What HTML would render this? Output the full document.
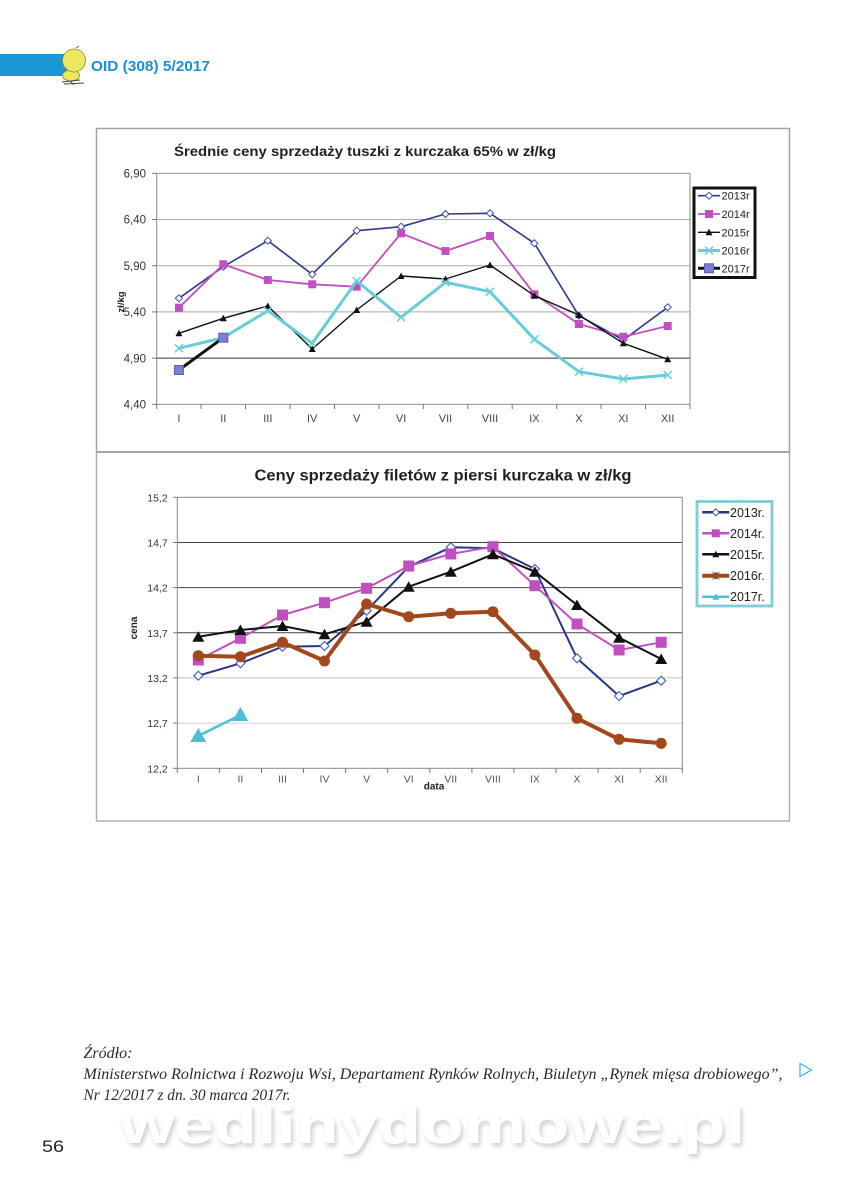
<!DOCTYPE html>
<html><head><meta charset="utf-8">
<style>html,body{margin:0;padding:0;background:#fff;}svg{display:block}</style>
</head><body>
<svg width="853" height="1200" viewBox="0 0 853 1200" xmlns="http://www.w3.org/2000/svg" font-family="'Liberation Sans', sans-serif">
<defs>
  <marker id="m13a" viewBox="-10 -10 20 20" markerWidth="20" markerHeight="20" refX="0" refY="0" markerUnits="userSpaceOnUse" overflow="visible"><path d="M0,-3.5 L3.5,0 L0,3.5 L-3.5,0 Z" fill="#fff" stroke="#3a4a9c" stroke-width="1"/></marker>
  <marker id="m14a" viewBox="-10 -10 20 20" markerWidth="20" markerHeight="20" refX="0" refY="0" markerUnits="userSpaceOnUse" overflow="visible"><rect x="-4" y="-4" width="8" height="8" fill="#c04fc0"/></marker>
  <marker id="m15a" viewBox="-10 -10 20 20" markerWidth="20" markerHeight="20" refX="0" refY="0" markerUnits="userSpaceOnUse" overflow="visible"><path d="M0,-3.5 L3.5,3 L-3.5,3 Z" fill="#111"/></marker>
  <marker id="m16a" viewBox="-10 -10 20 20" markerWidth="20" markerHeight="20" refX="0" refY="0" markerUnits="userSpaceOnUse" overflow="visible"><path d="M-4,-4 L4,4 M4,-4 L-4,4" stroke="#6ccfd8" stroke-width="1.5"/></marker>
  <marker id="m17a" viewBox="-10 -10 20 20" markerWidth="20" markerHeight="20" refX="0" refY="0" markerUnits="userSpaceOnUse" overflow="visible"><rect x="-4.5" y="-4.5" width="9" height="9" fill="#7c80d2" stroke="#5a5eb4" stroke-width="1"/></marker>

  <marker id="m13b" viewBox="-10 -10 20 20" markerWidth="20" markerHeight="20" refX="0" refY="0" markerUnits="userSpaceOnUse" overflow="visible"><path d="M0,-4.5 L4.5,0 L0,4.5 L-4.5,0 Z" fill="#fff" stroke="#4a64c0" stroke-width="1.2"/></marker>
  <marker id="m14b" viewBox="-10 -10 20 20" markerWidth="20" markerHeight="20" refX="0" refY="0" markerUnits="userSpaceOnUse" overflow="visible"><rect x="-5.5" y="-5.5" width="11" height="11" fill="#c050c0"/></marker>
  <marker id="m15b" viewBox="-10 -10 20 20" markerWidth="20" markerHeight="20" refX="0" refY="0" markerUnits="userSpaceOnUse" overflow="visible"><path d="M0,-5.5 L6,5 L-6,5 Z" fill="#111"/></marker>
  <marker id="m16b" viewBox="-10 -10 20 20" markerWidth="20" markerHeight="20" refX="0" refY="0" markerUnits="userSpaceOnUse" overflow="visible"><circle r="5.5" fill="#a3471c"/></marker>
  <marker id="m17b" viewBox="-10 -10 20 20" markerWidth="20" markerHeight="20" refX="0" refY="0" markerUnits="userSpaceOnUse" overflow="visible"><path d="M0,-8 L8,6 L-8,6 Z" fill="#4cbfd6"/></marker>
  <marker id="m17bs" viewBox="-10 -10 20 20" markerWidth="20" markerHeight="20" refX="0" refY="0" markerUnits="userSpaceOnUse" overflow="visible"><path d="M0,-3.5 L3.5,3 L-3.5,3 Z" fill="#4cbfd6"/></marker>

  <filter id="wm" x="-5%" y="-30%" width="110%" height="160%">
    <feGaussianBlur in="SourceAlpha" stdDeviation="2.5"/>
    <feOffset dx="2" dy="3" result="b"/>
    <feFlood flood-color="#9a9a9a" flood-opacity="0.5"/>
    <feComposite in2="b" operator="in" result="s"/>
    <feMerge><feMergeNode in="s"/><feMergeNode in="SourceGraphic"/></feMerge>
  </filter>
</defs>

<!-- Header -->
<rect x="0" y="54" width="68" height="22" fill="#1a98d5"/>
<ellipse cx="71" cy="75.5" rx="8.5" ry="5.5" fill="#efe760" stroke="#8b8a3a" stroke-width="0.8"/>
<circle cx="74" cy="60.5" r="11.5" fill="#efe760" stroke="#8b8a3a" stroke-width="0.8"/>
<path d="M62,82 L80,80 M64,84 L84,83 M70,81 L74,85" stroke="#444" stroke-width="0.9" fill="none"/>
<path d="M76,48 L79,46" stroke="#666" stroke-width="1"/>
<text x="91" y="71" font-size="15" font-weight="bold" fill="#1b8fd0" textLength="119" lengthAdjust="spacingAndGlyphs">OID (308) 5/2017</text>

<!-- Chart 1 frame -->
<rect x="96.5" y="128.5" width="693" height="323.5" fill="#fff" stroke="#a3a3a3" stroke-width="1.5"/>
<text x="365" y="156" text-anchor="middle" font-size="14" font-weight="bold" fill="#222" textLength="382" lengthAdjust="spacingAndGlyphs">Średnie ceny sprzedaży tuszki z kurczaka 65% w zł/kg</text>

<g stroke-width="1">
  <line x1="156.7" x2="690" y1="219.5" y2="219.5" stroke="#ababab"/>
  <line x1="156.7" x2="690" y1="265.7" y2="265.7" stroke="#ababab"/>
  <line x1="156.7" x2="690" y1="311.9" y2="311.9" stroke="#ababab"/>
  <line x1="156.7" x2="690" y1="358.1" y2="358.1" stroke="#333"/>
</g>
<rect x="156.7" y="173.3" width="533.3" height="231" fill="none" stroke="#8a8a8a" stroke-width="1"/>
<g stroke="#777" stroke-width="1">
  <line x1="152" x2="156.7" y1="173.3" y2="173.3"/>
  <line x1="152" x2="156.7" y1="219.5" y2="219.5"/>
  <line x1="152" x2="156.7" y1="265.7" y2="265.7"/>
  <line x1="152" x2="156.7" y1="311.9" y2="311.9"/>
  <line x1="152" x2="156.7" y1="358.1" y2="358.1"/>
  <line x1="152" x2="156.7" y1="404.3" y2="404.3"/>
  <line x1="156.7" x2="156.7" y1="404.3" y2="409"/>
  <line x1="201.1" x2="201.1" y1="404.3" y2="409"/>
  <line x1="245.6" x2="245.6" y1="404.3" y2="409"/>
  <line x1="290" x2="290" y1="404.3" y2="409"/>
  <line x1="334.5" x2="334.5" y1="404.3" y2="409"/>
  <line x1="378.9" x2="378.9" y1="404.3" y2="409"/>
  <line x1="423.3" x2="423.3" y1="404.3" y2="409"/>
  <line x1="467.8" x2="467.8" y1="404.3" y2="409"/>
  <line x1="512.2" x2="512.2" y1="404.3" y2="409"/>
  <line x1="556.7" x2="556.7" y1="404.3" y2="409"/>
  <line x1="601.1" x2="601.1" y1="404.3" y2="409"/>
  <line x1="645.6" x2="645.6" y1="404.3" y2="409"/>
  <line x1="690" x2="690" y1="404.3" y2="409"/>
</g>
<g font-size="11.5" fill="#333" text-anchor="end">
  <text x="146" y="177.5">6,90</text>
  <text x="146" y="223.7">6,40</text>
  <text x="146" y="269.9">5,90</text>
  <text x="146" y="316.1">5,40</text>
  <text x="146" y="362.3">4,90</text>
  <text x="146" y="408.5">4,40</text>
</g>
<g font-size="11" fill="#444" text-anchor="middle">
  <text x="178.9" y="422">I</text>
  <text x="223.3" y="422">II</text>
  <text x="267.8" y="422">III</text>
  <text x="312.2" y="422">IV</text>
  <text x="356.7" y="422">V</text>
  <text x="401.1" y="422">VI</text>
  <text x="445.5" y="422">VII</text>
  <text x="490" y="422">VIII</text>
  <text x="534.4" y="422">IX</text>
  <text x="578.9" y="422">X</text>
  <text x="623.3" y="422">XI</text>
  <text x="667.7" y="422">XII</text>
</g>
<text transform="translate(124,302) rotate(-90)" text-anchor="middle" font-size="9.5" font-weight="bold" fill="#222">zł/kg</text>

<g fill="none" stroke-linejoin="round">
  <polyline points="178.9,298.3 223.3,266.7 267.8,240.7 312.2,274.3 356.7,230.7 401.1,226.7 445.5,214 490,213.3 534.4,243.3 578.9,315.7 623.3,340 667.7,307.3" stroke="#2e3a8c" stroke-width="1.6" marker-start="url(#m13a)" marker-mid="url(#m13a)" marker-end="url(#m13a)"/>
  <polyline points="178.9,307.7 223.3,264.3 267.8,280 312.2,284.3 356.7,286.7 401.1,233.3 445.5,251 490,236 534.4,294.3 578.9,324 623.3,336.7 667.7,326" stroke="#c04fc0" stroke-width="1.8" marker-start="url(#m14a)" marker-mid="url(#m14a)" marker-end="url(#m14a)"/>
  <polyline points="178.9,333.3 223.3,318.3 267.8,306 312.2,349 356.7,310 401.1,276 445.5,279 490,265 534.4,295.7 578.9,315 623.3,343.3 667.7,359.3" stroke="#111" stroke-width="1.4" marker-start="url(#m15a)" marker-mid="url(#m15a)" marker-end="url(#m15a)"/>
  <polyline points="178.9,348.3 223.3,337.7 267.8,310.7 312.2,343.3 356.7,281 401.1,317.3 445.5,282.3 490,291.7 534.4,339.3 578.9,371.7 623.3,379 667.7,375" stroke="#66cdd6" stroke-width="3" marker-start="url(#m16a)" marker-mid="url(#m16a)" marker-end="url(#m16a)"/>
  <polyline points="178.9,370 223.3,337.7" stroke="#111" stroke-width="3" marker-start="url(#m17a)" marker-end="url(#m17a)"/>
</g>

<rect x="694" y="188" width="61" height="89.5" fill="#fff" stroke="#111" stroke-width="3"/>
<g fill="none">
  <polyline points="698,195.7 709,195.7 720,195.7" stroke="#2e3a8c" stroke-width="1.6" marker-mid="url(#m13a)"/>
  <polyline points="698,214 709,214 720,214" stroke="#c04fc0" stroke-width="1.8" marker-mid="url(#m14a)"/>
  <polyline points="698,232.3 709,232.3 720,232.3" stroke="#111" stroke-width="1.4" marker-mid="url(#m15a)"/>
  <polyline points="698,250.5 709,250.5 720,250.5" stroke="#66cdd6" stroke-width="3" marker-mid="url(#m16a)"/>
  <polyline points="698,268.3 709,268.3 720,268.3" stroke="#111" stroke-width="3" marker-mid="url(#m17a)"/>
</g>
<g font-size="11" fill="#222">
  <text x="721.5" y="199.7">2013r</text>
  <text x="721.5" y="218">2014r</text>
  <text x="721.5" y="236.3">2015r</text>
  <text x="721.5" y="254.5">2016r</text>
  <text x="721.5" y="272.3">2017r</text>
</g>

<!-- Chart 2 frame -->
<rect x="96.5" y="452" width="693" height="369" fill="#fff" stroke="#b0b0b0" stroke-width="1.5"/>
<line x1="96.5" x2="789.5" y1="452" y2="452" stroke="#999" stroke-width="1.5"/>
<text x="443" y="480.7" text-anchor="middle" font-size="16" font-weight="bold" fill="#222" textLength="377" lengthAdjust="spacingAndGlyphs">Ceny sprzedaży filetów z piersi kurczaka w zł/kg</text>

<g stroke-width="1">
  <line x1="177.3" x2="682.3" y1="542.5" y2="542.5" stroke="#444"/>
  <line x1="177.3" x2="682.3" y1="587.6" y2="587.6" stroke="#444"/>
  <line x1="177.3" x2="682.3" y1="632.8" y2="632.8" stroke="#444"/>
  <line x1="177.3" x2="682.3" y1="677.9" y2="677.9" stroke="#c4c4c4"/>
  <line x1="177.3" x2="682.3" y1="723.1" y2="723.1" stroke="#d0d0d0"/>
</g>
<rect x="177.3" y="497.3" width="505" height="271" fill="none" stroke="#8a8a8a" stroke-width="1"/>
<g stroke="#777" stroke-width="1">
  <line x1="173" x2="177.3" y1="497.3" y2="497.3"/>
  <line x1="173" x2="177.3" y1="542.5" y2="542.5"/>
  <line x1="173" x2="177.3" y1="587.6" y2="587.6"/>
  <line x1="173" x2="177.3" y1="632.8" y2="632.8"/>
  <line x1="173" x2="177.3" y1="677.9" y2="677.9"/>
  <line x1="173" x2="177.3" y1="723.1" y2="723.1"/>
  <line x1="173" x2="177.3" y1="768.3" y2="768.3"/>
  <line x1="177.3" x2="177.3" y1="768.3" y2="773"/>
  <line x1="219.4" x2="219.4" y1="768.3" y2="773"/>
  <line x1="261.5" x2="261.5" y1="768.3" y2="773"/>
  <line x1="303.5" x2="303.5" y1="768.3" y2="773"/>
  <line x1="345.6" x2="345.6" y1="768.3" y2="773"/>
  <line x1="387.7" x2="387.7" y1="768.3" y2="773"/>
  <line x1="429.8" x2="429.8" y1="768.3" y2="773"/>
  <line x1="471.9" x2="471.9" y1="768.3" y2="773"/>
  <line x1="513.9" x2="513.9" y1="768.3" y2="773"/>
  <line x1="556" x2="556" y1="768.3" y2="773"/>
  <line x1="598.1" x2="598.1" y1="768.3" y2="773"/>
  <line x1="640.2" x2="640.2" y1="768.3" y2="773"/>
  <line x1="682.3" x2="682.3" y1="768.3" y2="773"/>
</g>
<g font-size="10.5" fill="#333" text-anchor="end">
  <text x="167.7" y="501.3">15,2</text>
  <text x="167.7" y="546.5">14,7</text>
  <text x="167.7" y="591.6">14,2</text>
  <text x="167.7" y="636.8">13,7</text>
  <text x="167.7" y="681.9">13,2</text>
  <text x="167.7" y="727.1">12,7</text>
  <text x="167.7" y="772.3">12,2</text>
</g>
<g font-size="10.5" fill="#555" text-anchor="middle">
  <text x="198.3" y="782.5">I</text>
  <text x="240.4" y="782.5">II</text>
  <text x="282.5" y="782.5">III</text>
  <text x="324.5" y="782.5">IV</text>
  <text x="366.6" y="782.5">V</text>
  <text x="408.7" y="782.5">VI</text>
  <text x="450.8" y="782.5">VII</text>
  <text x="492.9" y="782.5">VIII</text>
  <text x="534.9" y="782.5">IX</text>
  <text x="577" y="782.5">X</text>
  <text x="619.1" y="782.5">XI</text>
  <text x="661.2" y="782.5">XII</text>
</g>
<text x="434" y="789.5" text-anchor="middle" font-size="10" font-weight="bold" fill="#222">data</text>
<text transform="translate(137,628) rotate(-90)" text-anchor="middle" font-size="10" font-weight="bold" fill="#222">cena</text>

<g fill="none" stroke-linejoin="round">
  <polyline points="198.3,675.7 240.4,663.3 282.5,646.7 324.5,646 366.6,610.7 408.7,566.7 450.8,547.3 492.9,548.3 534.9,569 577,658.3 619.1,696 661.2,680.7" stroke="#283782" stroke-width="2" marker-start="url(#m13b)" marker-mid="url(#m13b)" marker-end="url(#m13b)"/>
  <polyline points="198.3,660 240.4,638.3 282.5,615 324.5,602.7 366.6,588.3 408.7,566 450.8,554 492.9,546.7 534.9,585.7 577,624 619.1,650 661.2,642.3" stroke="#c050c0" stroke-width="2" marker-start="url(#m14b)" marker-mid="url(#m14b)" marker-end="url(#m14b)"/>
  <polyline points="198.3,636.7 240.4,630 282.5,626 324.5,634.3 366.6,621.7 408.7,586.7 450.8,571.7 492.9,554.3 534.9,571.7 577,605 619.1,637.7 661.2,659" stroke="#111" stroke-width="2" marker-start="url(#m15b)" marker-mid="url(#m15b)" marker-end="url(#m15b)"/>
  <polyline points="198.3,655.7 240.4,656.7 282.5,642.3 324.5,661 366.6,604 408.7,616.7 450.8,613.3 492.9,611.7 534.9,655 577,718.3 619.1,739.3 661.2,743.3" stroke="#a3471c" stroke-width="4" marker-start="url(#m16b)" marker-mid="url(#m16b)" marker-end="url(#m16b)"/>
  <polyline points="198.3,736 240.4,715" stroke="#4cbfd6" stroke-width="2.5" marker-start="url(#m17b)" marker-end="url(#m17b)"/>
</g>

<rect x="697" y="501.5" width="75" height="104.5" fill="#fff" stroke="#8fd3dc" stroke-width="3"/>
<rect x="697" y="501.5" width="75" height="104.5" fill="none" stroke="#4fb6c4" stroke-width="1" stroke-dasharray="1 1.5"/>
<g fill="none">
  <polyline points="702.3,512.3 715.8,512.3 729.3,512.3" stroke="#283782" stroke-width="2.5" marker-mid="url(#m13a)"/>
  <polyline points="702.3,533.3 715.8,533.3 729.3,533.3" stroke="#c050c0" stroke-width="2.5" marker-mid="url(#m14a)"/>
  <polyline points="702.3,554.3 715.8,554.3 729.3,554.3" stroke="#111" stroke-width="2.5" marker-mid="url(#m15a)"/>
  <polyline points="702.3,575.7 715.8,575.7 729.3,575.7" stroke="#a3471c" stroke-width="4" marker-mid="url(#m16a)"/>
  <polyline points="702.3,596.7 715.8,596.7 729.3,596.7" stroke="#4cbfd6" stroke-width="2.5" marker-mid="url(#m17bs)"/>
</g>
<circle cx="715.8" cy="575.7" r="3.5" fill="#a3471c"/>
<g font-size="12.5" fill="#222">
  <text x="730" y="516.8">2013r.</text>
  <text x="730" y="537.8">2014r.</text>
  <text x="730" y="558.8">2015r.</text>
  <text x="730" y="580.2">2016r.</text>
  <text x="730" y="601.2">2017r.</text>
</g>

<!-- Footer -->
<g font-family="'Liberation Serif', serif" font-style="italic" font-size="16" fill="#2a2a2a">
  <text x="83.5" y="1058" textLength="49" lengthAdjust="spacingAndGlyphs">Źródło:</text>
  <text x="83.5" y="1079" textLength="699" lengthAdjust="spacingAndGlyphs">Ministerstwo Rolnictwa i Rozwoju Wsi, Departament Rynków Rolnych, Biuletyn „Rynek mięsa drobiowego”,</text>
  <text x="83.5" y="1100" textLength="207" lengthAdjust="spacingAndGlyphs">Nr 12/2017 z dn. 30 marca 2017r.</text>
</g>
<path d="M800,1063.5 L811.5,1070 L800,1076.5 Z" fill="none" stroke="#3db4d8" stroke-width="1.2"/>
<text x="120" y="1143" font-size="52" font-weight="bold" fill="#ffffff" filter="url(#wm)" textLength="625" lengthAdjust="spacingAndGlyphs">wedlinydomowe.pl</text>
<text x="42" y="1152" font-size="17" fill="#222" textLength="22" lengthAdjust="spacingAndGlyphs">56</text>
</svg>
</body></html>
